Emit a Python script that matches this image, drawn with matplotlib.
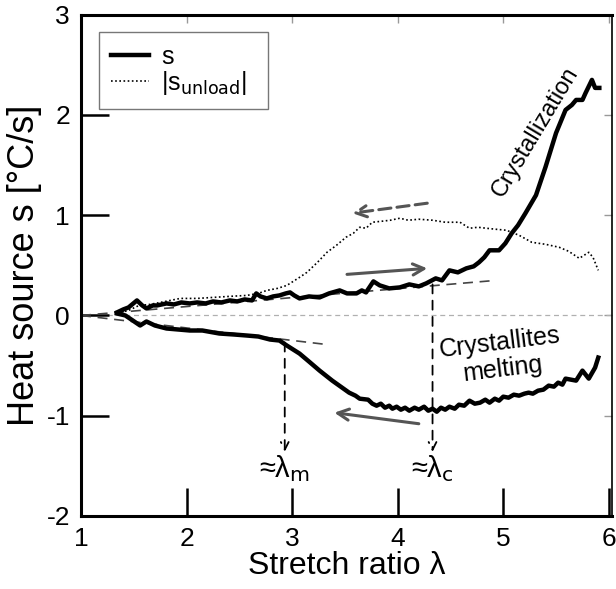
import matplotlib
matplotlib.use('Agg')
import matplotlib.pyplot as plt

plt.rcParams['font.family'] = ['Liberation Sans', 'DejaVu Sans']
plt.rcParams['axes.unicode_minus'] = False

# loading branch s
lam_load = [1.34, 1.40, 1.45, 1.53, 1.58, 1.62, 1.68, 1.72, 1.81, 1.88, 1.95, 2.03, 2.10, 2.18,
            2.25, 2.33, 2.41, 2.48, 2.55, 2.62, 2.66, 2.70, 2.76, 2.82, 2.88, 2.94, 2.98, 3.02,
            3.07, 3.16, 3.26, 3.35, 3.45, 3.52, 3.61, 3.66, 3.70, 3.77, 3.83, 3.92, 4.02, 4.11,
            4.20, 4.27, 4.36, 4.42, 4.49, 4.57, 4.65, 4.72, 4.77, 4.82, 4.87, 4.96, 5.02, 5.08,
            5.14, 5.21, 5.31, 5.40, 5.50, 5.59, 5.65, 5.69, 5.75, 5.78, 5.84, 5.87, 5.91]
s_load = [0.03, 0.06, 0.08, 0.15, 0.10, 0.07, 0.10, 0.10, 0.12, 0.11, 0.13, 0.12, 0.13, 0.12,
          0.14, 0.13, 0.15, 0.14, 0.16, 0.15, 0.22, 0.19, 0.17, 0.19, 0.20, 0.22, 0.23, 0.20,
          0.17, 0.19, 0.18, 0.22, 0.25, 0.22, 0.22, 0.25, 0.23, 0.34, 0.30, 0.27, 0.28, 0.31,
          0.29, 0.32, 0.37, 0.35, 0.45, 0.43, 0.47, 0.49, 0.53, 0.58, 0.65, 0.65, 0.72, 0.82,
          0.90, 1.02, 1.20, 1.48, 1.82, 2.05, 2.10, 2.15, 2.15, 2.22, 2.35, 2.27, 2.27]

# unloading branch s
lam_unload = [1.34, 1.42, 1.49, 1.56, 1.62, 1.70, 1.81, 1.92, 2.03, 2.15, 2.31, 2.45, 2.57, 2.68,
              2.79, 2.88, 2.95, 3.07, 3.16, 3.26, 3.38, 3.46, 3.54, 3.60, 3.64, 3.72, 3.76, 3.80,
              3.84, 3.88, 3.92, 3.95, 3.99, 4.03, 4.07, 4.11, 4.16, 4.20, 4.25, 4.29, 4.33, 4.37,
              4.41, 4.45, 4.49, 4.54, 4.58, 4.63, 4.68, 4.73, 4.78, 4.83, 4.87, 4.92, 4.96, 5.00,
              5.05, 5.10, 5.15, 5.20, 5.24, 5.28, 5.33, 5.38, 5.43, 5.48, 5.52, 5.56, 5.59, 5.64,
              5.69, 5.75, 5.81, 5.87, 5.90]
s_unload = [0.02, 0.00, -0.05, -0.10, -0.06, -0.10, -0.13, -0.14, -0.15, -0.15, -0.18, -0.19,
            -0.20, -0.21, -0.24, -0.25, -0.30, -0.38, -0.46, -0.55, -0.65, -0.71, -0.77, -0.80,
            -0.83, -0.84, -0.88, -0.90, -0.88, -0.92, -0.90, -0.93, -0.91, -0.94, -0.92, -0.95,
            -0.92, -0.94, -0.91, -0.95, -0.93, -0.96, -0.92, -0.94, -0.91, -0.93, -0.89, -0.90,
            -0.85, -0.88, -0.87, -0.84, -0.87, -0.83, -0.85, -0.81, -0.82, -0.79, -0.80, -0.78,
            -0.77, -0.78, -0.75, -0.74, -0.70, -0.71, -0.67, -0.69, -0.63, -0.64, -0.65, -0.55,
            -0.63, -0.52, -0.42]

# |s_unload|
lam_abs = [1.34, 1.45, 1.55, 1.65, 1.75, 1.94, 2.10, 2.25, 2.40, 2.57, 2.68, 2.76, 2.86, 2.95,
           3.07, 3.14, 3.24, 3.33, 3.42, 3.51, 3.58, 3.64, 3.70, 3.76, 3.85, 3.93, 4.02, 4.10,
           4.20, 4.33, 4.45, 4.59, 4.68, 4.76, 4.84, 4.93, 5.03, 5.15, 5.27, 5.40, 5.53, 5.62,
           5.72, 5.81, 5.85, 5.90]
s_abs = [0.02, 0.05, 0.10, 0.11, 0.13, 0.17, 0.17, 0.18, 0.19, 0.20, 0.22, 0.25, 0.27, 0.30,
         0.38, 0.43, 0.53, 0.63, 0.70, 0.78, 0.82, 0.88, 0.87, 0.93, 0.94, 0.95, 0.97, 0.95,
         0.96, 0.95, 0.93, 0.93, 0.87, 0.88, 0.87, 0.86, 0.85, 0.80, 0.73, 0.71, 0.68, 0.64,
         0.57, 0.63, 0.58, 0.45]

# tangent lines and onset markers
tan_up = ([1.0, 4.93], [0.0, 0.35])
tan_low = ([1.0, 3.33], [0.0, -0.29])
lam_m, lam_c = 2.93, 4.33
s_m, s_c = -0.27, 0.31

fig = plt.figure(figsize=(6.16, 5.89), dpi=100)
ax = fig.add_axes([0.1315, 0.124, 0.862, 0.851])

ax.axhline(0, color='#b0b0b0', lw=0.9, ls=(0, (4, 3)), zorder=1)
ax.plot(*tan_up, color='#444444', lw=1.2, ls=(0, (6, 4)), zorder=2)
ax.plot(*tan_low, color='#444444', lw=1.2, ls=(0, (6, 4)), zorder=2)

l_abs, = ax.plot(lam_abs, s_abs, color='black', lw=1.2, ls=(0, (1, 1.5)), zorder=3)
l_s, = ax.plot(lam_load, s_load, color='black', lw=3.2, zorder=4)
ax.plot(lam_unload, s_unload, color='black', lw=3.2, zorder=4)

# vertical dashed arrows
for lx, ly in [(lam_m, s_m), (lam_c, s_c)]:
    ax.annotate('', xy=(lx, -1.36), xytext=(lx, ly),
                arrowprops=dict(arrowstyle='->', color='black', lw=1.3, ls=(0, (5, 4)),
                                shrinkA=0, shrinkB=0, mutation_scale=14))
ax.text(lam_m, -1.53, '≈λ$_\\mathrm{m}$', fontsize=21, ha='center', va='center')
ax.text(lam_c, -1.53, '≈λ$_\\mathrm{c}$', fontsize=21, ha='center', va='center')

# direction arrows
gray = '#555555'
ax.annotate('', xy=(4.28, 0.47), xytext=(3.52, 0.41),
            arrowprops=dict(arrowstyle='->', color=gray, lw=2.2, mutation_scale=20, shrinkA=0, shrinkB=0))
ax.annotate('', xy=(3.57, 1.02), xytext=(4.28, 1.12),
            arrowprops=dict(arrowstyle='->', color=gray, lw=2.2, ls=(0, (4, 2)), mutation_scale=20,
                            shrinkA=0, shrinkB=0))
ax.annotate('', xy=(3.40, -0.97), xytext=(4.20, -1.08),
            arrowprops=dict(arrowstyle='->', color=gray, lw=2.2, mutation_scale=20, shrinkA=0, shrinkB=0))

ax.text(5.30, 1.83, 'Crystallization', fontsize=17, rotation=59, ha='center', va='center')
ax.text(4.98, -0.40, 'Crystallites\nmelting', fontsize=18, rotation=7, ha='center', va='center',
        linespacing=1.15)

ax.set_xlim(1, 6.03)
ax.set_ylim(-2, 3)
ax.set_xticks([1, 2, 3, 4, 5, 6])
ax.set_yticks([-2, -1, 0, 1, 2, 3])
ax.tick_params(axis='both', direction='in', length=20, width=1.8, labelsize=19, pad=8)
for side in ['left', 'bottom', 'top']:
    ax.spines[side].set_linewidth(2.2)
ax.spines['right'].set_linewidth(1.2)

# short grey ticks on the top and right edges
top = ax.secondary_xaxis('top')
top.set_xticks([1, 2, 3, 4, 5, 6])
top.tick_params(direction='in', length=6, width=1, color='#999999', labeltop=False)
right = ax.secondary_yaxis('right')
right.set_yticks([-2, -1, 0, 1, 2, 3])
right.tick_params(direction='in', length=6, width=1, color='#999999', labelright=False)
top.spines['top'].set_visible(False)
right.spines['right'].set_visible(False)

ax.set_xlabel('Stretch ratio λ', fontsize=23, labelpad=0)
ax.set_ylabel('Heat source s [°C/s]', fontsize=26, labelpad=3)

ax.legend([l_s, l_abs], ['s', r'|s$_{\mathrm{unload}}$|  '], loc='upper left', fontsize=18,
          frameon=True, fancybox=False, edgecolor='#555555', handlelength=1.5, handletextpad=0.5,
          borderaxespad=0.7, borderpad=0.5, labelspacing=0.0)

fig.savefig('out.png', dpi=100)
